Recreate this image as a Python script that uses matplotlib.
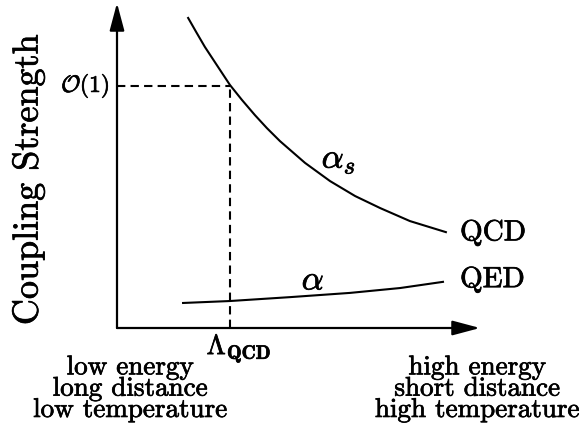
import matplotlib
matplotlib.use("Agg")
import matplotlib.pyplot as plt
import matplotlib.patheffects as pe

plt.rcParams['font.family'] = 'cmr10'
plt.rcParams['mathtext.fontset'] = 'cm'
plt.rcParams['axes.formatter.use_mathtext'] = True

# running couplings (arbitrary units, axes go 0..1)
as_x = [0.196, 0.218, 0.242, 0.275, 0.311, 0.344, 0.380, 0.413,
        0.449, 0.518, 0.587, 0.656, 0.725, 0.807, 0.906]
as_y = [0.954, 0.911, 0.865, 0.809, 0.748, 0.702, 0.655, 0.615,
        0.575, 0.508, 0.452, 0.406, 0.369, 0.329, 0.295]

a_x = [0.182, 0.311, 0.477, 0.642, 0.780, 0.898]
a_y = [0.077, 0.083, 0.095, 0.108, 0.123, 0.142]

lam_qcd = 0.311
order_one = 0.745

fig = plt.figure(figsize=(5.83, 4.30), dpi=100)
ax = fig.add_axes([117/583, 102/430, 363/583, 325/430])
ax.set_xlim(0, 1)
ax.set_ylim(0, 1)
ax.axis('off')

arrow = dict(arrowstyle='-|>,head_length=0.6,head_width=0.16',
             mutation_scale=28, lw=1.6, color='k', shrinkA=0, shrinkB=0)
ax.annotate('', xy=(0, 1), xytext=(0, 0), arrowprops=arrow)
ax.annotate('', xy=(1, 0), xytext=(0, 0), arrowprops=arrow)

ax.plot(as_x, as_y, color='k', lw=1.5, clip_on=False)
ax.plot(a_x, a_y, color='k', lw=1.5, clip_on=False)

ax.plot([0, lam_qcd], [order_one, order_one], 'k--', lw=1.5, dashes=(4, 2.5))
ax.plot([lam_qcd, lam_qcd], [0, order_one], 'k--', lw=1.5, dashes=(4, 2.5))

# slightly heavier glyphs
bold = [pe.withStroke(linewidth=0.5, foreground='k')]
fs = 19.5

def label(x, y, s, size=fs, **kw):
    t = ax.text(x, y, s, fontsize=size, **kw)
    t.set_path_effects(bold)
    return t

label(-0.02, order_one, r'$\mathcal{O}(1)$', size=17, ha='right', va='center')
label(lam_qcd + 0.025, -0.062, r'$\Lambda_{\mathbf{QCD}}$', size=20,
      ha='center', va='center')
label(0.611, 0.517, r'$\alpha_s$', size=25, ha='center', va='center')
label(0.540, 0.145, r'$\alpha$', size=25, ha='center', va='center')
label(0.945, 0.292, 'QCD', size=21, ha='left', va='center')
label(0.945, 0.148, 'QED', size=21, ha='left', va='center')
label(-0.245, 0.455, 'Coupling Strength', size=26, rotation=90,
      ha='center', va='center')
label(0.036, -0.085, 'low energy\nlong distance\nlow temperature',
      ha='center', va='top', linespacing=0.87, multialignment='center')
label(0.992, -0.085, 'high energy\nshort distance\nhigh temperature',
      ha='center', va='top', linespacing=0.87, multialignment='center')

fig.savefig('out.png', dpi=100)
